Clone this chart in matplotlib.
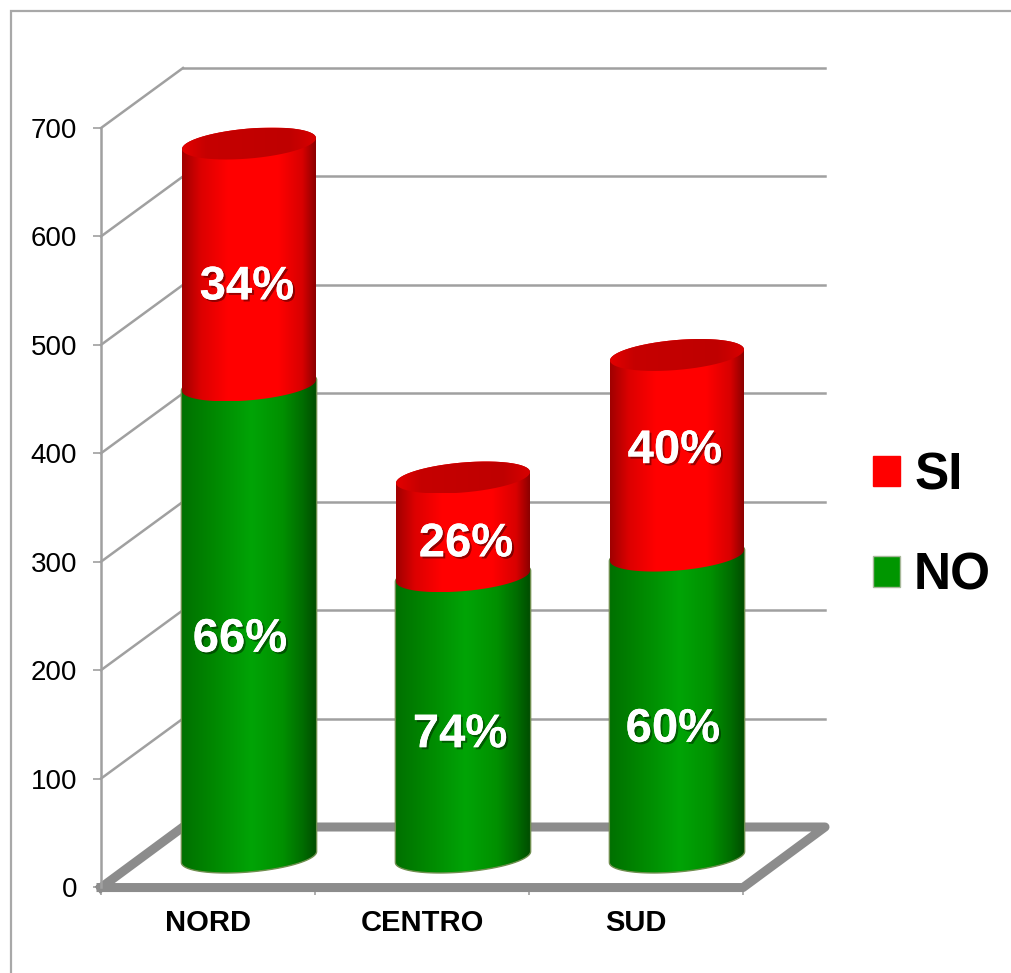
import matplotlib
matplotlib.use('Agg')
import matplotlib.pyplot as plt
import matplotlib.patheffects as pe
import numpy as np
from matplotlib.colors import LinearSegmentedColormap
from matplotlib.patches import Patch, PathPatch, Rectangle
from matplotlib.path import Path

plt.rcParams['font.family'] = ['Liberation Sans', 'DejaVu Sans']

# values
categories = ['NORD', 'CENTRO', 'SUD']
no_values = [435, 259, 278]
si_values = [223, 91, 185]
no_labels = ['66%', '74%', '60%']
si_labels = ['34%', '26%', '40%']
yticks = [0, 100, 200, 300, 400, 500, 600, 700]

# label centres, they are not quite centred on the bars in the original
no_label_x = [0.15, 1.178, 2.173]
no_label_y = [228, 140, 145]
si_label_x = [0.182, 1.206, 2.182]
si_label_y = [553, 316, 402]

W, H = 1011, 973
GRID = '#a0a0a0'
FLOOR = '#8c8c8c'

fig = plt.figure(figsize=(W / 100, H / 100), dpi=100)
ax = fig.add_axes([101 / W, (H - 887) / H, 642 / W, 759 / H])
ax.set_xlim(-0.5, 2.5)
ax.set_ylim(0, 700)

# the fake 3d depth of the chart, in data units
depth_x = 82 / 214
depth_y = 60 / 1.0843
half_w = 67 / 214
ell_b = 15 / 1.0843
ell_tilt = 5.5 / 1.0843

reds = LinearSegmentedColormap.from_list('reds', [(0, '#a00000'), (0.14, '#dc0000'), (0.34, '#ff0000'),
                                                  (0.72, '#ff0000'), (0.9, '#d80000'), (1, '#8c0000')])
greens = LinearSegmentedColormap.from_list('greens', [(0, '#007000'), (0.2, '#008400'), (0.52, '#00a406'),
                                                      (0.75, '#009000'), (0.9, '#006c00'), (1, '#004c00')])
caps = LinearSegmentedColormap.from_list('caps', [(0, '#e40000'), (0.18, '#c60000'), (0.8, '#bf0000'),
                                                  (1, '#d80000')])


def arc(cx, yc, t0, t1, w=half_w):
    t = np.linspace(t0, t1, 60)
    return np.column_stack([cx + w * np.cos(t), yc + ell_b * np.sin(t) + ell_tilt * np.cos(t)])


def shaded(pts, cmap, x0, x1, edge=None, z=4):
    patch = PathPatch(Path(np.vstack([pts, pts[0]])), facecolor='none', edgecolor=edge or 'none',
                      lw=1.0, zorder=z + 0.1, clip_on=False)
    ax.add_patch(patch)
    ymin, ymax = pts[:, 1].min(), pts[:, 1].max()
    im = ax.imshow(np.linspace(0, 1, 256).reshape(1, -1), cmap=cmap, vmin=0, vmax=1, aspect='auto',
                   extent=[x0, x1, ymin, ymax], interpolation='bilinear', zorder=z)
    im.set_clip_box(fig.bbox)
    im.set_clip_path(patch)


def cylinder(i, y0, y1, cmap, edge, w, z):
    cx = i + depth_x / 2
    base = depth_y / 2
    pts = np.vstack([arc(cx, base + y0, np.pi, 2 * np.pi, w), arc(cx, base + y1, 0, np.pi, w)])
    shaded(pts, cmap, cx - w, cx + w, edge, z)


# walls
for v in yticks:
    if v > 0:
        ax.plot([-0.5, -0.5 + depth_x], [v, v + depth_y], color=GRID, lw=1.8, clip_on=False, zorder=1)
        ax.plot([-0.5 + depth_x, 2.5 + depth_x], [v + depth_y, v + depth_y], color=GRID, lw=1.8,
                clip_on=False, zorder=1)

# floor
floor_x = [-0.5, 2.5, 2.5 + depth_x, -0.5 + depth_x, -0.5]
floor_y = [-0.5, -0.5, depth_y, depth_y, -0.5]
ax.plot(floor_x, floor_y, color=FLOOR, lw=6.5, solid_joinstyle='round', clip_on=False, zorder=2)

# bars, green first and the red sits on top of it
for i in range(len(categories)):
    top = no_values[i] + si_values[i]
    cylinder(i, 0, no_values[i], greens, '#6f8f4f', half_w + 0.003, 4)
    cylinder(i, no_values[i], top, reds, None, half_w, 5)
    cx = i + depth_x / 2
    cap = arc(cx, depth_y / 2 + top, 0, 2 * np.pi)
    shaded(cap, caps, cx - half_w, cx + half_w, None, 6)

shadow = [pe.withSimplePatchShadow(offset=(1.5, -1.5), shadow_rgbFace='#000000', alpha=0.4), pe.Normal()]
for xs, ys, labels in [(no_label_x, no_label_y, no_labels), (si_label_x, si_label_y, si_labels)]:
    for x, y, s in zip(xs, ys, labels):
        ax.text(x, y, s, color='white', fontsize=34, fontweight='bold', ha='center', va='center',
                zorder=8, path_effects=shadow)

ax.set_xlim(-0.5, 2.5)
ax.set_ylim(0, 700)

# axes
for name in ['top', 'right', 'bottom']:
    ax.spines[name].set_visible(False)
ax.spines['left'].set_color(GRID)
ax.spines['left'].set_linewidth(1.8)
ax.set_yticks(yticks)
ax.set_xticks([-0.5, 0.5, 1.5, 2.5], labels=[])
ax.set_xticks([0, 1, 2], labels=categories, minor=True)
ax.tick_params(axis='y', length=5.8, width=1.2, color=GRID, labelsize=20, pad=11.5)
ax.tick_params(axis='x', which='major', length=6, width=1.2, color=GRID, pad=8)
ax.tick_params(axis='x', which='minor', length=0, labelsize=21, pad=16)
for lab in ax.get_xticklabels(minor=True):
    lab.set_fontweight('bold')
ax.patch.set_alpha(0)

leg = ax.legend(handles=[Patch(color='#ff0000', label='SI'),
                         Patch(facecolor='#009600', edgecolor='#a8b89a', lw=1, label='NO')],
                loc='center left', bbox_to_anchor=(772 / 642, (887 - 526) / 759), frameon=False,
                prop={'size': 37, 'weight': 'bold'}, handlelength=0.53, handleheight=0.53,
                handletextpad=0.27, labelspacing=1.0, borderpad=0, borderaxespad=0)

# thin frame of the slide around the chart
fig.add_artist(Rectangle((11 / W, -0.01), 1.1, (H - 11) / H + 0.01, transform=fig.transFigure, fill=False,
                         edgecolor='#a8a8a8', lw=1.6))

fig.savefig('out.png', dpi=100)
